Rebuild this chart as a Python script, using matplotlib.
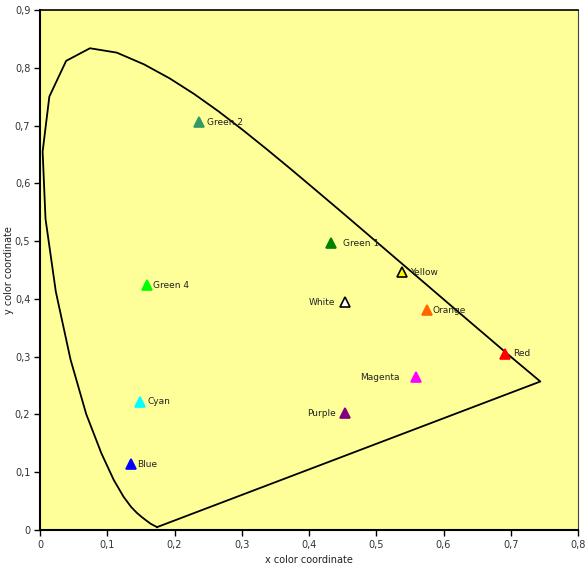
import matplotlib
matplotlib.use('Agg')
import matplotlib.pyplot as plt
from matplotlib.ticker import FuncFormatter

# spectral locus (follows CIE 1931 curve)
locus_x = [0.1741, 0.1644, 0.1566, 0.1510, 0.1440, 0.1355, 0.1241, 0.1096,
           0.0913, 0.0687, 0.0454, 0.0235, 0.0082, 0.0039, 0.0139, 0.0389,
           0.0743, 0.1142, 0.1547, 0.1929, 0.2296, 0.2658, 0.3016, 0.3373,
           0.3731, 0.4087, 0.4441, 0.4788, 0.5125, 0.5448, 0.5752, 0.6029,
           0.6270, 0.6482, 0.6658, 0.6801, 0.6915, 0.7006, 0.7440, 0.1741]
locus_y = [0.0050, 0.0109, 0.0177, 0.0227, 0.0297, 0.0399, 0.0578, 0.0868,
           0.1327, 0.2007, 0.2950, 0.4127, 0.5384, 0.6548, 0.7502, 0.8120,
           0.8338, 0.8262, 0.8059, 0.7816, 0.7543, 0.7243, 0.6923, 0.6589,
           0.6245, 0.5896, 0.5547, 0.5202, 0.4866, 0.4544, 0.4242, 0.3965,
           0.3725, 0.3514, 0.3340, 0.3197, 0.3083, 0.2993, 0.2570, 0.0050]

names = ['Green 2', 'Green 1', 'Yellow', 'White', 'Orange', 'Red',
         'Magenta', 'Purple', 'Cyan', 'Blue', 'Green 4']
px = [0.236, 0.432, 0.539, 0.453, 0.575, 0.692, 0.559, 0.454, 0.148, 0.136, 0.1585]
py = [0.706, 0.496, 0.446, 0.394, 0.380, 0.305, 0.264, 0.202, 0.222, 0.114, 0.424]
fills = ['#339966', '#008000', '#FFFF00', '#FFFFFF', '#FF6600', '#FF0000',
         '#FF00FF', '#800080', '#00FFFF', '#0000FF', '#00FF00']
edges = ['#339966', '#008000', 'black', 'black', '#FF6600', '#FF0000',
         '#FF00FF', '#800080', '#00FFFF', '#0000FF', '#00FF00']
left_side = ['White', 'Magenta', 'Purple']

fig = plt.figure(figsize=(5.88, 5.66), dpi=100)
ax = fig.add_axes([40 / 588, 36 / 566, 538 / 588, 520 / 566])
ax.set_facecolor('#FFFF99')

ax.plot(locus_x, locus_y, color='black', lw=1.3)

for n, x, y, fc, ec in zip(names, px, py, fills, edges):
    ax.plot(x, y, marker='^', ms=7, mfc=fc, mec=ec, mew=1.2, ls='none')
    if n in left_side:
        off = (-9 if n != 'Magenta' else -16)
        ax.annotate(n, (x, y), xytext=(off, 0), textcoords='offset pixels',
                    ha='right', va='center', fontsize=6.5, color='#222222')
    else:
        off = {'Green 1': 12, 'Orange': 6, 'Green 4': 6, 'Blue': 6}.get(n, 8)
        ax.annotate(n, (x, y), xytext=(off, 0), textcoords='offset pixels',
                    ha='left', va='center', fontsize=6.5, color='#222222')

ax.set_xlim(0, 0.8)
ax.set_ylim(0, 0.9)
ax.set_xticks([i / 10 for i in range(9)])
ax.set_yticks([i / 10 for i in range(10)])
fmt = FuncFormatter(lambda v, p: '0' if abs(v) < 1e-9 else ('%.1f' % v).replace('.', ','))
ax.xaxis.set_major_formatter(fmt)
ax.yaxis.set_major_formatter(fmt)
ax.tick_params(direction='out', length=4, width=1, labelsize=7, colors='black',
               labelcolor='#333333', pad=3)

for s in ['left', 'bottom']:
    ax.spines[s].set_linewidth(1.5)
ax.spines['top'].set_linewidth(1.2)
ax.spines['right'].set_linewidth(0.8)
ax.spines['right'].set_color('#444444')

ax.set_xlabel('x color coordinate', fontsize=7, color='#222222', labelpad=4)
ax.set_ylabel('y color coordinate', fontsize=7, color='#222222')
ax.yaxis.set_label_coords(-26 / 538, 0.5)

fig.savefig('out.png', dpi=100)
